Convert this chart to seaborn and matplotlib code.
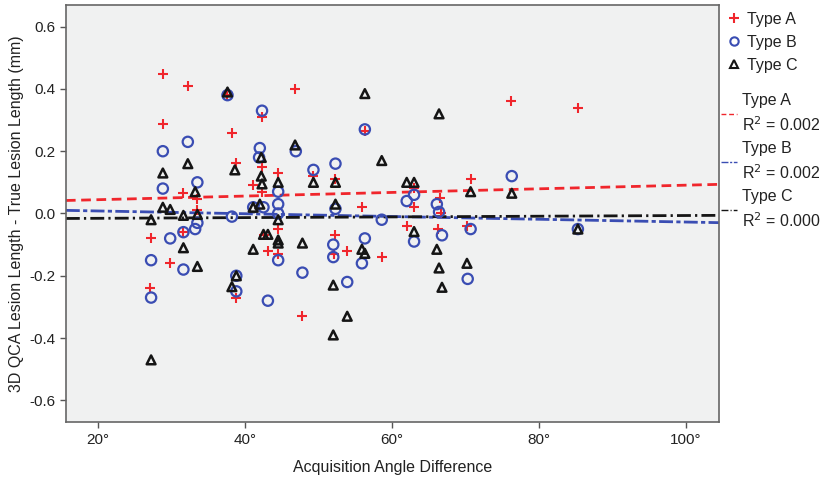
import numpy as np
import pandas as pd
import seaborn as sns
import matplotlib.pyplot as plt
from matplotlib.lines import Line2D

# Values (angle in degrees, length difference in mm)
type_a_angle = [28.8, 28.8, 32.2, 37.6, 38.2, 38.8, 42.3, 42.3, 41.1, 42.3, 44.5, 46.8, 49.3, 52.3,
                56.3, 63.0, 66.5, 70.7, 76.2, 85.3, 31.6, 33.5, 33.4, 31.6, 27.2, 29.8, 27.1, 38.8,
                43.1, 42.6, 44.5, 44.5, 55.9, 52.3, 52.1, 53.9, 58.6, 47.8, 63.0, 62.0, 66.7, 66.3, 70.2]
type_a_diff = [0.448, 0.288, 0.41, 0.38, 0.26, 0.163, 0.31, 0.15, 0.09, 0.07, 0.13, 0.40, 0.12, 0.11,
               0.265, 0.083, 0.05, 0.11, 0.36, 0.34, 0.067, 0.048, 0.012, -0.06, -0.08, -0.16, -0.24, -0.27,
               -0.12, -0.07, -0.05, -0.13, 0.02, -0.07, -0.13, -0.12, -0.14, -0.33, 0.02, -0.04, 0.0, -0.05, -0.04]

type_b_angle = [37.6, 42.3, 28.8, 32.2, 42.0, 41.9, 46.9, 52.3, 49.3, 56.3, 33.5, 28.8, 44.5, 63.0,
                62.0, 76.3, 41.1, 42.5, 44.5, 44.5, 52.3, 38.2, 66.1, 66.4, 58.6, 33.5, 33.2, 31.6,
                29.8, 27.2, 31.6, 27.2, 38.8, 38.8, 43.1, 44.5, 47.8, 52.0, 52.0, 53.9, 56.3, 55.9,
                63.0, 66.8, 70.7, 70.3, 85.3]
type_b_diff = [0.38, 0.33, 0.20, 0.23, 0.21, 0.18, 0.20, 0.16, 0.14, 0.27, 0.10, 0.08, 0.07, 0.06,
               0.04, 0.12, 0.02, 0.02, 0.03, 0.0, 0.015, -0.01, 0.03, 0.005, -0.02, -0.03, -0.05, -0.06,
               -0.08, -0.15, -0.18, -0.27, -0.20, -0.25, -0.28, -0.15, -0.19, -0.10, -0.14, -0.22, -0.08, -0.16,
               -0.09, -0.07, -0.05, -0.21, -0.05]

type_c_angle = [37.6, 56.3, 66.4, 46.8, 58.6, 28.8, 32.2, 38.6, 42.2, 42.2, 42.3, 44.5, 49.3, 52.3,
                62.0, 63.0, 70.7, 76.3, 33.2, 28.8, 29.8, 27.2, 31.6, 33.5, 42.0, 41.1, 44.5, 52.3,
                85.3, 42.5, 43.1, 44.5, 44.5, 41.1, 31.6, 33.5, 38.8, 38.2, 47.8, 55.9, 56.3, 52.0,
                53.9, 52.0, 66.1, 66.4, 66.8, 63.0, 70.2, 27.2]
type_c_diff = [0.39, 0.385, 0.32, 0.22, 0.17, 0.13, 0.16, 0.14, 0.18, 0.12, 0.095, 0.10, 0.10, 0.10,
               0.10, 0.10, 0.07, 0.065, 0.07, 0.02, 0.013, -0.02, -0.006, -0.003, 0.03, 0.02, -0.02, 0.03,
               -0.05, -0.067, -0.067, -0.085, -0.095, -0.115, -0.11, -0.17, -0.20, -0.235, -0.095, -0.115, -0.128, -0.23,
               -0.33, -0.39, -0.115, -0.175, -0.237, -0.058, -0.16, -0.47]

groups = ['Type A', 'Type B', 'Type C']
r2_labels = ['0.002', '0.002', '0.000']
x_ticks = [20, 40, 60, 80, 100]
y_ticks = [-0.6, -0.4, -0.2, 0.0, 0.2, 0.4, 0.6]

df = pd.concat([
    pd.DataFrame({'angle': type_a_angle, 'diff': type_a_diff, 'type': 'Type A'}),
    pd.DataFrame({'angle': type_b_angle, 'diff': type_b_diff, 'type': 'Type B'}),
    pd.DataFrame({'angle': type_c_angle, 'diff': type_c_diff, 'type': 'Type C'}),
])

colors = {'Type A': '#f0262c', 'Type B': '#3a4db3', 'Type C': '#151515'}
line_styles = {'Type A': (0, (3.5, 2)), 'Type B': (0, (5, 1.2, 1.5, 1.2)), 'Type C': (0, (5, 1.5, 0.8, 1.5))}

sns.set_style('white')
plt.rcParams['font.family'] = ['Liberation Sans', 'DejaVu Sans']

fig = plt.figure(figsize=(8.34, 4.83), dpi=100)
ax = fig.add_axes([0.079, 0.126, 0.783, 0.864])
ax.set_facecolor('#f0f1f1')
ax.set_xlim(15.6, 104.5)
ax.set_ylim(-0.67, 0.67)

# scatter, one call per type ('+' can't mix with filled markers)
sub = df[df['type'] == 'Type A']
sns.scatterplot(data=sub, x='angle', y='diff', marker='+', color=colors['Type A'], s=55, linewidth=1.5, ax=ax, zorder=3)
sub = df[df['type'] == 'Type B']
sns.scatterplot(data=sub, x='angle', y='diff', marker='o', facecolors='none', edgecolor=colors['Type B'], s=55, linewidth=1.6, ax=ax, zorder=3)
sub = df[df['type'] == 'Type C']
sns.scatterplot(data=sub, x='angle', y='diff', marker='^', facecolors='none', edgecolor=colors['Type C'], s=40, linewidth=1.8, ax=ax, zorder=3)

# fit lines across the whole x range
for g in groups:
    sub = df[df['type'] == g]
    sns.regplot(data=sub, x='angle', y='diff', scatter=False, ci=None, truncate=False, ax=ax,
                line_kws=dict(color=colors[g], linestyle=line_styles[g], linewidth=2, zorder=2))
ax.set_xlim(15.6, 104.5)

ax.set_xticks(x_ticks)
ax.set_xticklabels([f'{t}°' for t in x_ticks])
ax.set_yticks(y_ticks)
ax.set_yticklabels([f'{t:.1f}' for t in y_ticks])
ax.tick_params(axis='both', labelsize=11, length=4, width=1, color='#555555', direction='out',
               bottom=True, left=True, labelcolor='#222222')
for sp in ax.spines.values():
    sp.set_color('#666666')
    sp.set_linewidth(1.2)

ax.set_xlabel('Acquisition Angle Difference', fontsize=11.5, labelpad=10, color='#222222')
ax.set_ylabel('3D QCA Lesion Length - True Lesion Length (mm)', fontsize=11.5, labelpad=4, color='#222222')

# marker legend on top, fit-line legend below it
marker_handles = [
    Line2D([], [], marker='+', color=colors['Type A'], linestyle='none', markersize=7, markeredgewidth=1.5),
    Line2D([], [], marker='o', color=colors['Type B'], markerfacecolor='none', linestyle='none', markersize=6, markeredgewidth=1.5),
    Line2D([], [], marker='^', color=colors['Type C'], markerfacecolor='none', linestyle='none', markersize=6, markeredgewidth=1.5),
]
leg1 = ax.legend(marker_handles, groups, loc='upper left', bbox_to_anchor=(1.0, 1.0), frameon=False,
                 fontsize=11.5, handlelength=1.0, handletextpad=0.3, labelspacing=0.5,
                 borderaxespad=0.15, borderpad=0.3)
for t in leg1.get_texts():
    t.set_color('#222222')
ax.add_artist(leg1)

line_handles = [Line2D([], [], color=colors[g], linestyle=line_styles[g], linewidth=1) for g in groups]
line_labels = [f'{g}\nR$^2$ = {r2}' for g, r2 in zip(groups, r2_labels)]
leg2 = ax.legend(line_handles, line_labels, loc='upper left', bbox_to_anchor=(1.0, 0.795), frameon=False,
                 fontsize=11.5, handlelength=1.0, handletextpad=0.3, labelspacing=0.4,
                 borderaxespad=0.15, borderpad=0.0)
for t in leg2.get_texts():
    t.set_linespacing(1.5)
    t.set_color('#222222')

fig.savefig('out.png', dpi=100)
